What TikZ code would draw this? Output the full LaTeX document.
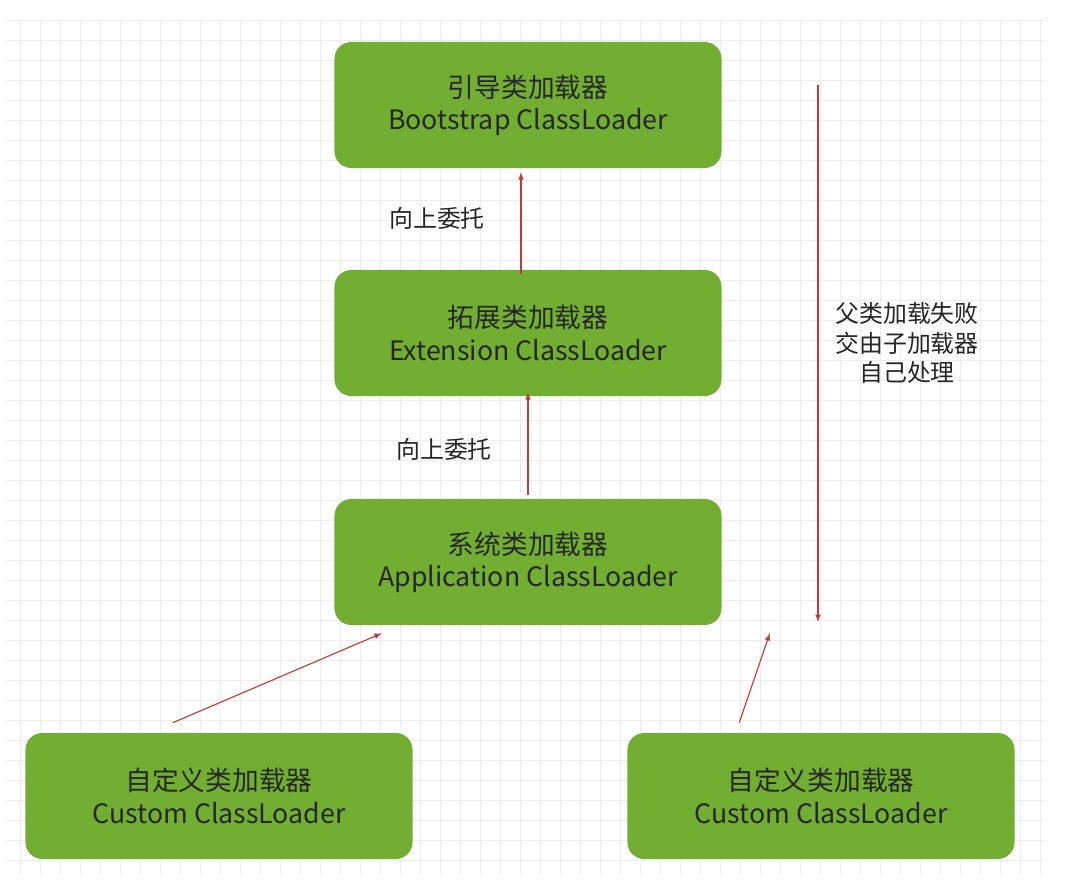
\documentclass[tikz,border=0pt]{standalone}
\usepackage{fontspec}
\setmainfont{Noto Sans CJK SC}
\definecolor{loadergreen}{HTML}{72AE32}
\definecolor{arrowred}{HTML}{C0393B}
\tikzset{
  loader/.style={draw=none, fill=loadergreen, rounded corners=12pt, minimum width=9.675cm, minimum height=3.15cm, align=center, font=\fontsize{19pt}{23pt}\selectfont, text=black!85},
  up/.style={draw=arrowred, thick, -latex},
  lbl/.style={font=\fontsize{17pt}{21pt}\selectfont, text=black!85, align=center}
}
\begin{document}
\begin{tikzpicture}[x=0.025cm, y=-0.025cm]
\useasboundingbox (0,0) rectangle (1066,882);
\path[fill=white] (0,0) rectangle (1066,882);
% grid
\draw[black!7, step=0.5cm] (5,20) grid (1045,875);

\node[loader] (boot) at (528,105) {引导类加载器\\Bootstrap ClassLoader};
\node[loader] (ext) at (528,333) {拓展类加载器\\Extension ClassLoader};
\node[loader] (app) at (528,562) {系统类加载器\\Application ClassLoader};
\node[loader] (cusa) at (219,796) {自定义类加载器\\Custom ClassLoader};
\node[loader] (cusb) at (821,796) {自定义类加载器\\Custom ClassLoader};

\coordinate (top) at (818,85);
\coordinate (bottom) at (818,622);

\draw[up] ([xshift=-0.175cm, yshift=-0.1cm]boot.south |- ext.north) -- ([xshift=-0.175cm, yshift=-0.1cm]boot.south);
\draw[up] ([yshift=0.1cm]app.north) -- ([yshift=0.1cm]ext.south);
\draw[up] ([xshift=-6cm, yshift=0.25cm]cusa.north east) -- ([xshift=-8.5cm, yshift=-0.2cm]app.south east);
\draw[up] ([xshift=2.8cm, yshift=0.25cm]cusb.north west) -- ([xshift=1.2cm, yshift=-0.2cm]app.south east |- app.south);
\draw[up] (top) -- (bottom);

\node[lbl] (upa) at (437,218) {向上委托};
\node[lbl] (upb) at (444,449) {向上委托};
\node[lbl] (fail) at (907,343) {父类加载失败\\交由子加载器\\自己处理};
\end{tikzpicture}
\end{document}
